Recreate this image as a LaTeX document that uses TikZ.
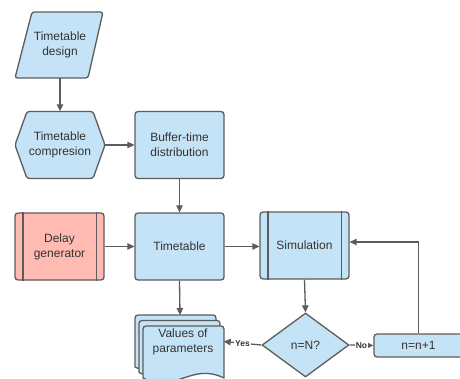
\documentclass[tikz,border=0pt]{standalone}
\usepackage{fontspec}
\setmainfont{Liberation Sans}
\usetikzlibrary{shapes.geometric,arrows.meta}
\definecolor{fillblue}{HTML}{C5E3F6}
\definecolor{fillred}{HTML}{FFBBB1}
\definecolor{edge}{HTML}{5C5C5C}
\definecolor{ink}{HTML}{333333}

\begin{document}
\begin{tikzpicture}[x=1pt,y=-1pt,
  txt/.style={text=ink,font=\fontsize{12}{15}\selectfont,align=center},
  outline/.style={draw=edge,line width=1.3pt,line join=round},
  proc/.style={txt,outline,fill=fillblue,rounded corners=3pt,
    minimum width=89pt,minimum height=67pt,inner sep=0pt},
  ghost/.style={txt,inner sep=0pt},
  decision/.style={txt,outline,fill=fillblue,diamond,aspect=1.36,
    minimum width=87pt,minimum height=64pt,inner sep=0pt},
  link/.style={draw=edge,line width=1.3pt,-{Triangle[length=7pt,width=6.5pt]}},
  tag/.style={font=\bfseries\fontsize{8.5}{10}\selectfont,text=ink,fill=white,inner sep=1pt}]
\useasboundingbox (0,0) rectangle (460,379);
\clip (0,0) rectangle (460,379);

% input: parallelogram
\draw[outline,fill=fillblue,rounded corners=2.5pt]
  (32,12) -- (103,12) -- (88,78) -- (15,78) -- cycle;
\node[ghost,minimum width=89pt,minimum height=66pt] (design) at (60,45) {Timetable\\design};

% preparation: hexagon
\draw[outline,fill=fillblue,rounded corners=2.5pt]
  (15,145) -- (27,111.5) -- (93,111.5) -- (105,145) -- (93,178.5) -- (27,178.5) -- cycle;
\node[ghost,minimum width=90pt,minimum height=67pt] (compr) at (60,145) {Timetable\\compresion};

% processes
\node[proc] (buffer) at (179.5,145) {Buffer-time\\distribution};
\node[proc,fill=fillred] (delay) at (59.5,246.5) {Delay\\generator};
\node[proc] (table) at (179.5,246.5) {Timetable};
\node[proc] (sim) at (304.5,245.5) {Simulation};
\node[proc,minimum height=23pt] (incr) at (418.5,345.5) {n=n+1};
\node[decision] (check) at (305.5,345) {n=N?};

% predefined-process side bars
\foreach \n in {delay,sim}{
  \draw[outline] ([xshift=8.5pt]\n.north west) -- ([xshift=8.5pt]\n.south west);
  \draw[outline] ([xshift=-8.5pt]\n.north east) -- ([xshift=-8.5pt]\n.south east);
}

% multi-document stack
\foreach \dx/\dy in {0/0,4/5.5,8/11}{
  \draw[outline,fill=fillblue,rounded corners=3pt]
    ({135+\dx},{367+\dy}) -- ({135+\dx},{315+\dy}) -- ({216+\dx},{315+\dy})
    [sharp corners] -- ({216+\dx},{367+\dy})
    .. controls ({183+\dx},{351+\dy}) and ({168+\dx},{383+\dy}) .. ({135+\dx},{367+\dy});
}
\node[ghost,minimum width=81pt] (values) at (183,341.5) {Values of\\parameters};
\coordinate (valtop) at (180,315);

% connectors
\draw[link] (design.south) -- (compr.north);
\draw[link] (compr.east) -- (buffer.west);
\draw[link] (buffer.south) -- (table.north);
\draw[link] (delay.east) -- (table.west);
\draw[link] (table.east) -- (table.east -| sim.west);
\draw[link] (table.south) -- (valtop);
\draw[link] (sim.south) -- (check.north);
\draw[link] (incr.north) |- ([yshift=3.5pt]sim.east);
\draw[link] (check.west) -- node[tag] {Yes} (values.east);
\draw[link] (check.east) -- node[tag] {No} (incr.west);
\end{tikzpicture}
\end{document}
